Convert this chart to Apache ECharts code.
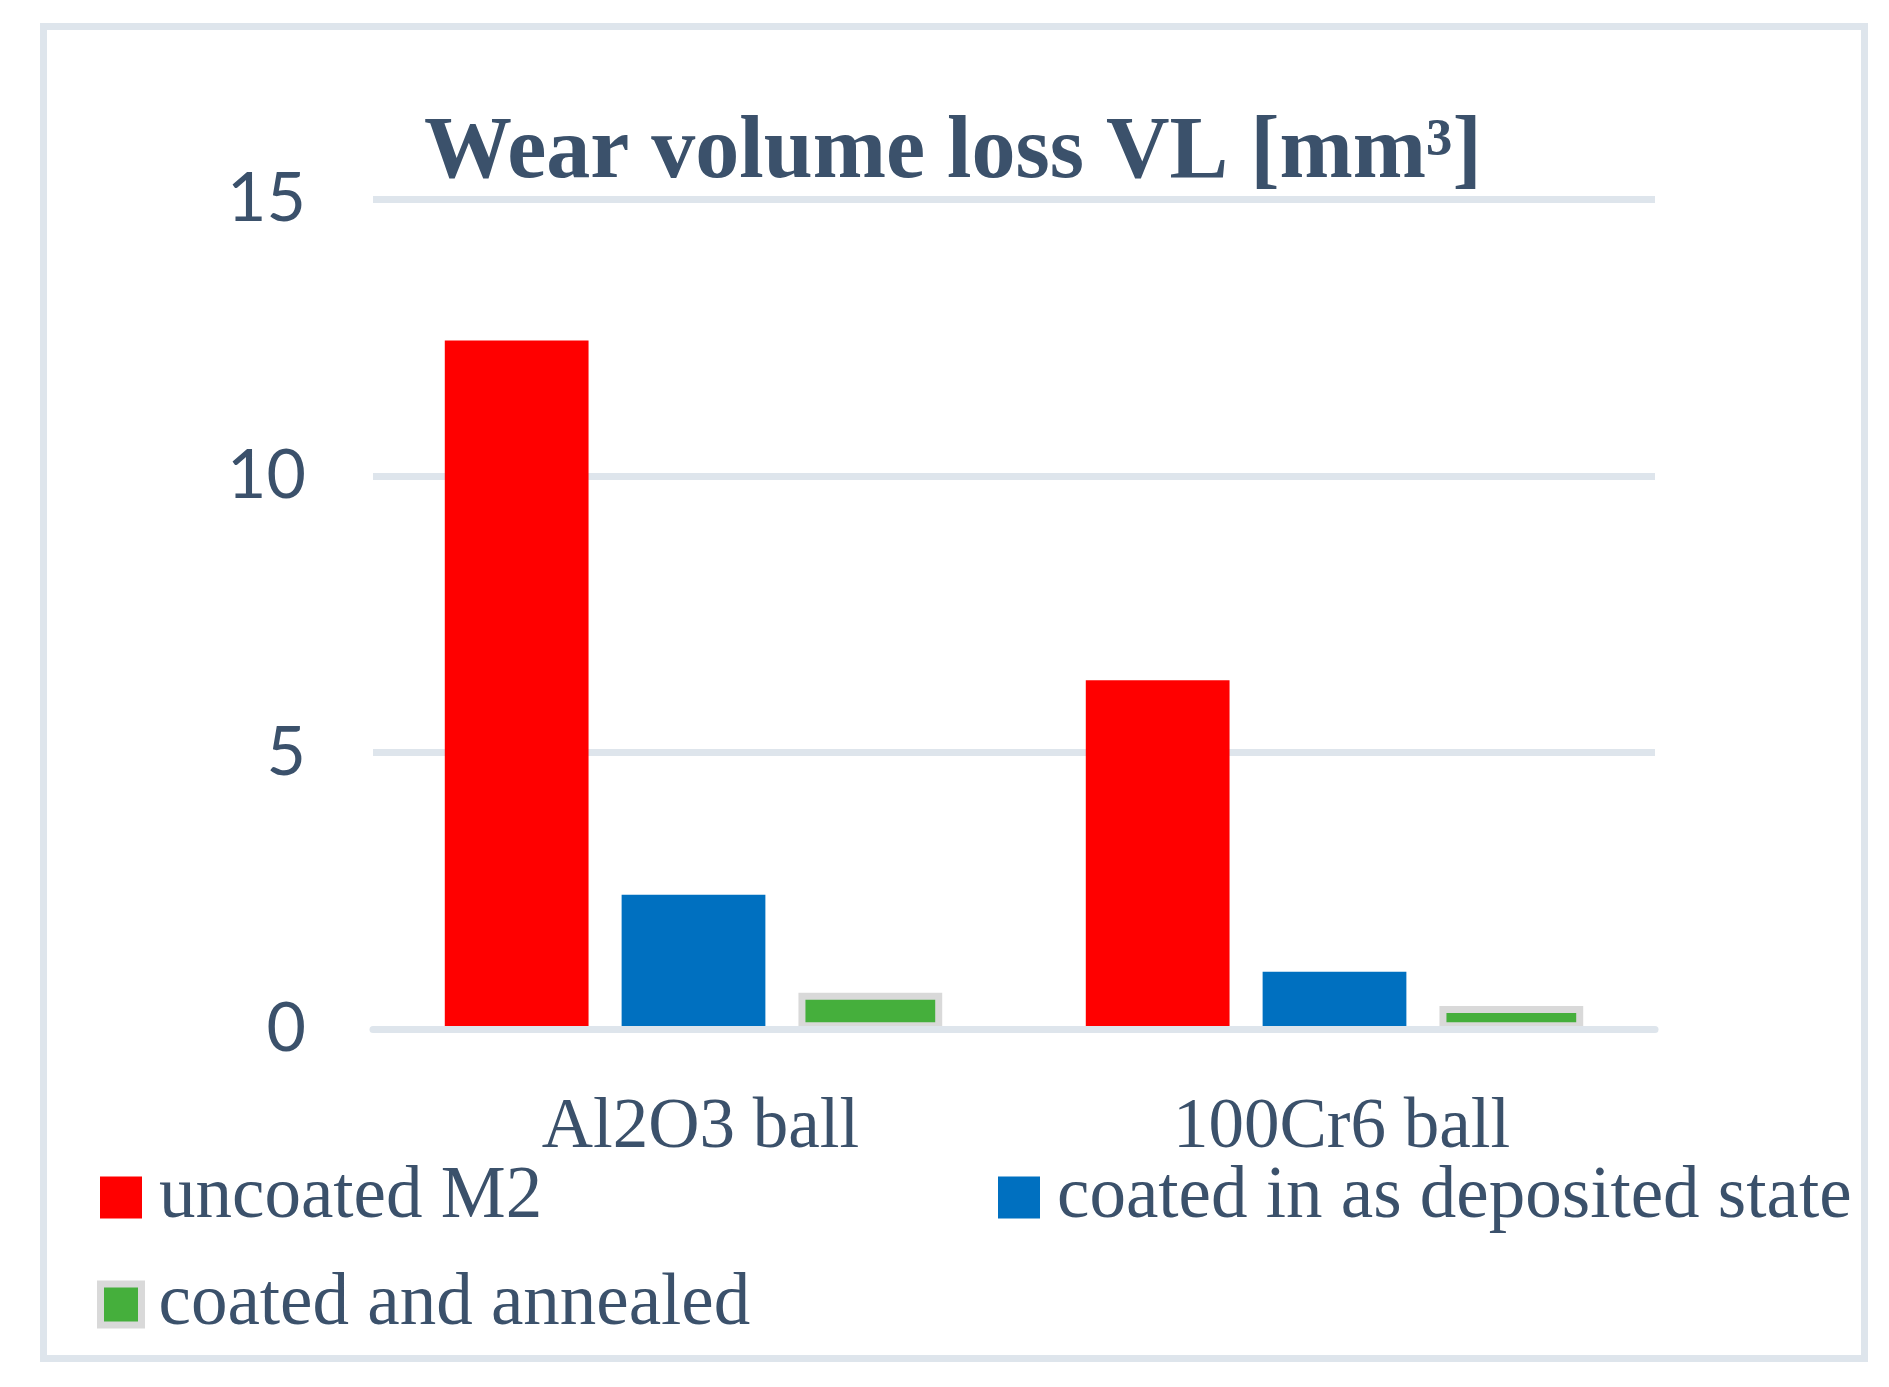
<!DOCTYPE html>
<html>

<head>
    <meta charset="utf-8">
    <title>Wear volume loss</title>
    <style>
        html, body { margin: 0; padding: 0; background: #fff; }
    </style>
</head>

<body>
<div id="main" style="width: 1889px;height:1387px;"></div>

<script src="https://cdn.jsdelivr.net/npm/echarts@6.0.0/dist/echarts.min.js"></script>

<script>
    // values
    var categories = ['Al2O3 ball', '100Cr6 ball'];
    var seriesNames = ['uncoated M2', 'coated in as deposited state', 'coated and annealed'];
    var uncoatedM2 = [12.45, 6.31];
    var coatedDeposited = [2.43, 1.04];
    var coatedAnnealed = [0.66, 0.42];
    var yMin = 0, yMax = 15, yStep = 5;

    var textColor = '#3b516b';
    var lineColor = '#dee5ec';

    var myChart = echarts.init(document.getElementById('main'));

    function legendFor(name, left, top, extra) {
        var l = {
            data: [name],
            left: left,
            top: top,
            padding: 0,
            itemWidth: 42,
            itemHeight: 42,
            icon: 'rect',
            selectedMode: false,
            itemStyle: { borderWidth: 0 },
            textStyle: {
                fontFamily: 'Liberation Serif',
                fontSize: 73,
                lineHeight: 72,
                color: textColor,
                padding: [0, 0, 0, 12]
            }
        };
        if (extra) {
            for (var k in extra) l[k] = extra[k];
        }
        return l;
    }

    var option = {
        backgroundColor: '#fff',
        animation: false,
        title: {
            text: 'Wear volume loss VL [mm³]',
            left: 424,
            top: 110,
            padding: 0,
            textStyle: {
                fontFamily: 'Liberation Serif',
                fontWeight: 'bold',
                fontSize: 88,
                color: textColor
            }
        },
        legend: [
            legendFor(seriesNames[0], 100, 1161),
            legendFor(seriesNames[1], 998, 1161),
            legendFor(seriesNames[2], 97, 1268, {
                itemWidth: 41,
                itemHeight: 41,
                itemStyle: { borderColor: '#d9d9d9', borderWidth: 7 }
            })
        ],
        grid: {
            left: 373,
            right: 234,
            top: 199.5,
            bottom: 357.7,
            containLabel: false
        },
        xAxis: {
            type: 'category',
            data: categories,
            z: 3,
            axisLine: { show: true, lineStyle: { color: lineColor, width: 7 } },
            axisTick: { show: false },
            axisLabel: {
                margin: 64,
                fontFamily: 'Liberation Serif',
                fontSize: 71,
                color: textColor,
                padding: [0, 0, 0, 14]
            }
        },
        yAxis: {
            type: 'value',
            min: yMin,
            max: yMax,
            interval: yStep,
            axisLine: { show: false },
            axisTick: { show: false },
            splitLine: { lineStyle: { color: lineColor, width: 7 } },
            axisLabel: {
                margin: 67,
                fontFamily: 'Lato',
                fontSize: 68,
                color: textColor
            }
        },
        graphic: [{
            type: 'rect',
            shape: { x: 43.5, y: 26.5, width: 1821, height: 1332 },
            style: { fill: 'none', stroke: lineColor, lineWidth: 7 },
            silent: true
        }],
        series: [
            {
                name: seriesNames[0],
                type: 'bar',
                data: uncoatedM2,
                barGap: '23%',
                barCategoryGap: '22.4%',
                itemStyle: { color: '#ff0000' }
            },
            {
                name: seriesNames[1],
                type: 'bar',
                data: coatedDeposited,
                itemStyle: { color: '#0070c0' }
            },
            {
                name: seriesNames[2],
                type: 'bar',
                data: coatedAnnealed,
                itemStyle: { color: '#45af3c', borderColor: '#d9d9d9', borderWidth: 7 }
            }
        ]
    };
    myChart.setOption(option);
</script>
</body>

</html>
